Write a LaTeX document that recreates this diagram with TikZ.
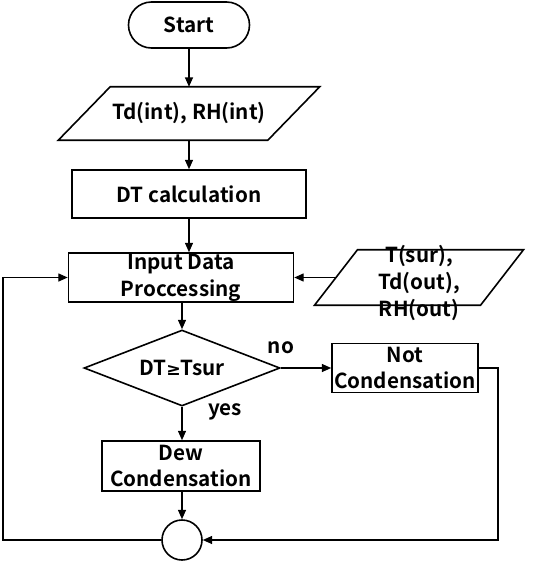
\documentclass[tikz,border=0pt]{standalone}
\usepackage{fontspec}
\setmainfont{Noto Sans CJK KR}[BoldFont={Noto Sans CJK KR Bold}]
\newfontfamily\symfont{DejaVu Sans}
\usetikzlibrary{shapes.geometric,shapes.misc,arrows.meta,calc}
\begin{document}
\begin{tikzpicture}[x=0.75pt,y=-0.75pt,
  every node/.style={font=\bfseries\fontsize{15.5}{20.2}\selectfont,align=center,inner sep=0pt},
  box/.style={draw,line width=1.2pt,rectangle},
  term/.style={draw,line width=1.2pt,rounded rectangle},
  dia/.style={draw,line width=1.2pt,diamond,aspect=2.58},
  conn/.style={draw,line width=1.2pt,circle},
  io/.style={rectangle},
  lab/.style={},
  arr/.style={line width=0.9pt,-{Triangle[length=7pt,width=6pt]}},
  ln/.style={line width=0.9pt}]
\useasboundingbox (0,0) rectangle (543,561);
% nodes
\node[term,minimum width=121*0.75pt,minimum height=46*0.75pt] (start) at (189,25) {Start};
\node[io,minimum width=209*0.75pt,minimum height=53*0.75pt] (in1) at (189,113.5) {Td(int), RH(int)};
\node[box,minimum width=234*0.75pt,minimum height=48*0.75pt] (dt) at (189,194) {DT calculation};
\node[box,minimum width=225*0.75pt,minimum height=49*0.75pt] (inp) at (181,277.5) {Input Data\\Proccessing};
\node[io,minimum width=165.5*0.75pt,minimum height=55*0.75pt] (in2) at (419,277.5) {};
\node (in2text) at (419,283) {T(sur),\\Td(out),\\RH(out)};
\node[dia,minimum width=196*0.75pt,minimum height=76*0.75pt] (dec) at (182,368) {DT{\symfont\fontsize{13}{15}\selectfont ≥}Tsur};
\node[box,minimum width=146*0.75pt,minimum height=49*0.75pt] (notc) at (405,368) {Not\\Condensation};
\node[box,minimum width=158*0.75pt,minimum height=50*0.75pt] (dew) at (181,466) {Dew\\Condensation};
\node[conn,minimum size=40*0.75pt] (join) at (182,540) {};
\node[lab] (no) at (281,348) {no};
\node[lab] (yes) at (225,412) {yes};
% parallelograms
\draw[line width=1.2pt] ([xshift=26*0.75pt]in1.north west) -- ([xshift=26*0.75pt]in1.north east)
  -- ([xshift=-26*0.75pt]in1.south east) -- ([xshift=-26*0.75pt]in1.south west) -- cycle;
\draw[line width=1.2pt] ([xshift=21.5*0.75pt]in2.north west) -- ([xshift=21.5*0.75pt]in2.north east)
  -- ([xshift=-21.5*0.75pt]in2.south east) -- ([xshift=-21.5*0.75pt]in2.south west) -- cycle;
% connectors
\draw[arr] (start.south) -- (in1.north);
\draw[arr] (in1.south) -- (dt.north);
\draw[arr] (dt.south) -- (dt.south |- inp.north);
\draw[arr] (in2.west) -- (inp.east);
\draw[arr] (inp.south -| dec.north) -- (dec.north);
\draw[arr] (dec.east) -- (notc.west);
\draw[arr] (dec.south) -- (dew.north -| dec.south);
\draw[arr] (dew.south -| join.north) -- (join.north);
\coordinate (r1) at (498,368);
\coordinate (l1) at (3,540);
\coordinate (l2) at (3,277.5);
\draw[arr] (notc.east) -- (r1) |- (join.east);
\draw[arr] (join.west) -- (l1) -- (l2) -- (inp.west);
\end{tikzpicture}
\end{document}
